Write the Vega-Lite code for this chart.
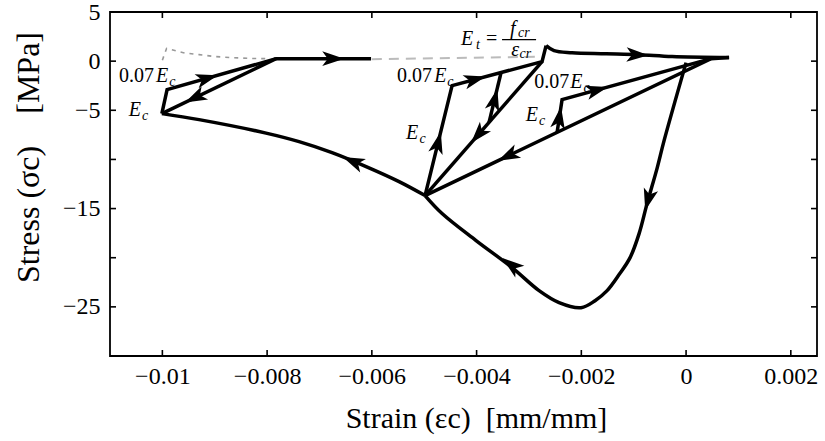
{
  "$schema": "https://vega.github.io/schema/vega-lite/v6.json",
  "width": 707,
  "height": 344,
  "autosize": {"type": "none"},
  "padding": {"left": 110, "top": 12, "right": 8, "bottom": 85},
  "background": "white",
  "config": {"view": {"stroke": "black", "strokeWidth": 1.8}},
  "datasets": {
    "xt": [{"v": -0.01}, {"v": -0.008}, {"v": -0.006}, {"v": -0.004}, {"v": -0.002}, {"v": 0}, {"v": 0.002}],
    "yt": [{"v": 0}, {"v": -5}, {"v": -10}, {"v": -15}, {"v": -20}, {"v": -25}],
    "poly": [
      {"seg": "m1", "ord": 1, "x": -0.004984, "y": -13.68},
      {"seg": "m1", "ord": 2, "x": -0.004468, "y": -2.49},
      {"seg": "m1", "ord": 3, "x": -0.00275, "y": -0.05},
      {"seg": "m1", "ord": 4, "x": -0.002673, "y": 1.58},
      {"seg": "m2", "ord": 1, "x": -0.00275, "y": -0.05},
      {"seg": "m2", "ord": 2, "x": -0.004984, "y": -13.68},
      {"seg": "m3", "ord": 1, "x": -0.003762, "y": -6.23},
      {"seg": "m3", "ord": 2, "x": -0.003533, "y": -1.16},
      {"seg": "r1", "ord": 1, "x": 0.000821, "y": 0.36},
      {"seg": "r1", "ord": 2, "x": 0.000477, "y": 0.25},
      {"seg": "r1", "ord": 3, "x": -0.004984, "y": -13.68},
      {"seg": "r2", "ord": 1, "x": -0.002463, "y": -7.26},
      {"seg": "r2", "ord": 2, "x": -0.002368, "y": -3.92},
      {"seg": "r2", "ord": 3, "x": 0.000477, "y": 0.25},
      {"seg": "l1", "ord": 1, "x": -0.01001, "y": -5.34},
      {"seg": "l1", "ord": 2, "x": -0.00991, "y": -2.9},
      {"seg": "l1", "ord": 3, "x": -0.007829, "y": 0.25},
      {"seg": "l1", "ord": 4, "x": -0.006015, "y": 0.25},
      {"seg": "l2", "ord": 1, "x": -0.007829, "y": 0.25},
      {"seg": "l2", "ord": 2, "x": -0.01001, "y": -5.34}
    ],
    "env": [
      {"seg": "A", "ord": 1, "x": 0.0, "y": -0.15},
      {"seg": "A", "ord": 2, "x": -0.00042, "y": -8.09},
      {"seg": "A", "ord": 3, "x": -0.00055, "y": -10.83},
      {"seg": "A", "ord": 4, "x": -0.000745, "y": -14.5},
      {"seg": "A", "ord": 5, "x": -0.000897, "y": -17.55},
      {"seg": "A", "ord": 6, "x": -0.001069, "y": -19.99},
      {"seg": "A", "ord": 7, "x": -0.001279, "y": -21.72},
      {"seg": "A", "ord": 8, "x": -0.001508, "y": -23.35},
      {"seg": "A", "ord": 9, "x": -0.001738, "y": -24.37},
      {"seg": "A", "ord": 10, "x": -0.002005, "y": -25.08},
      {"seg": "A", "ord": 11, "x": -0.002425, "y": -24.57},
      {"seg": "A", "ord": 12, "x": -0.002807, "y": -23.35},
      {"seg": "A", "ord": 13, "x": -0.003322, "y": -21.01},
      {"seg": "A", "ord": 14, "x": -0.00401, "y": -18.26},
      {"seg": "A", "ord": 15, "x": -0.004659, "y": -15.51},
      {"seg": "A", "ord": 16, "x": -0.004984, "y": -13.68},
      {"seg": "B", "ord": 1, "x": -0.004984, "y": -13.68},
      {"seg": "B", "ord": 2, "x": -0.00548, "y": -12.26},
      {"seg": "B", "ord": 3, "x": -0.00611, "y": -10.73},
      {"seg": "B", "ord": 4, "x": -0.00676, "y": -9.31},
      {"seg": "B", "ord": 5, "x": -0.00739, "y": -8.19},
      {"seg": "B", "ord": 6, "x": -0.00802, "y": -7.32},
      {"seg": "B", "ord": 7, "x": -0.0093, "y": -5.95},
      {"seg": "B", "ord": 8, "x": -0.01001, "y": -5.34},
      {"seg": "T", "ord": 1, "x": -0.002673, "y": 1.58},
      {"seg": "T", "ord": 2, "x": -0.002521, "y": 1.07},
      {"seg": "T", "ord": 3, "x": -0.002177, "y": 0.86},
      {"seg": "T", "ord": 4, "x": -0.001528, "y": 0.76},
      {"seg": "T", "ord": 5, "x": -0.000897, "y": 0.66},
      {"seg": "T", "ord": 6, "x": -0.000267, "y": 0.46},
      {"seg": "T", "ord": 7, "x": 0.000821, "y": 0.36}
    ],
    "gdot": [
      {"ord": 1, "x": -0.01, "y": 0.1},
      {"ord": 2, "x": -0.00992, "y": 1.3},
      {"ord": 3, "x": -0.0096, "y": 0.86},
      {"ord": 4, "x": -0.0093, "y": 0.66},
      {"ord": 5, "x": -0.00898, "y": 0.46},
      {"ord": 6, "x": -0.00867, "y": 0.36},
      {"ord": 7, "x": -0.00835, "y": 0.28},
      {"ord": 8, "x": -0.00802, "y": 0.25}
    ],
    "gdash": [
      {"ord": 1, "x": -0.006, "y": 0.2},
      {"ord": 2, "x": -0.0028, "y": 0.45}
    ],
    "arrows": [
      {"x": -0.00072, "y": -14.0, "dir": 195},
      {"x": -0.003322, "y": -20.8, "dir": 308},
      {"x": -0.00634, "y": -10.25, "dir": 293},
      {"x": -0.00474, "y": -8.4, "dir": 14},
      {"x": -0.00405, "y": -1.89, "dir": 75},
      {"x": -0.00366, "y": -4.02, "dir": 14},
      {"x": -0.003953, "y": -7.4, "dir": 221},
      {"x": -0.00095, "y": 0.64, "dir": 92},
      {"x": -0.00338, "y": -9.59, "dir": 244},
      {"x": -0.002425, "y": -5.85, "dir": 9},
      {"x": -0.001719, "y": -2.96, "dir": 75},
      {"x": -0.009166, "y": -1.77, "dir": 74},
      {"x": -0.009357, "y": -3.67, "dir": 244},
      {"x": -0.00676, "y": 0.25, "dir": 90}
    ],
    "labels": [
      {"x": -0.01083, "y": -1.47, "t": "0.07", "role": "rm"},
      {"x": -0.01012, "y": -1.47, "t": "E", "role": "it"},
      {"x": -0.00987, "y": -2.09, "t": "c", "role": "sub"},
      {"x": -0.01064, "y": -4.93, "t": "E", "role": "it"},
      {"x": -0.01039, "y": -5.54, "t": "c", "role": "sub"},
      {"x": -0.00552, "y": -1.47, "t": "0.07", "role": "rm"},
      {"x": -0.00481, "y": -1.47, "t": "E", "role": "it"},
      {"x": -0.00456, "y": -2.09, "t": "c", "role": "sub"},
      {"x": -0.00535, "y": -7.27, "t": "E", "role": "it"},
      {"x": -0.00509, "y": -7.88, "t": "c", "role": "sub"},
      {"x": -0.0029, "y": -2.09, "t": "0.07", "role": "rm"},
      {"x": -0.00221, "y": -2.09, "t": "E", "role": "it"},
      {"x": -0.00196, "y": -2.7, "t": "c", "role": "sub"},
      {"x": -0.00306, "y": -5.44, "t": "E", "role": "it"},
      {"x": -0.00281, "y": -6.05, "t": "c", "role": "sub"},
      {"x": -0.0043, "y": 2.29, "t": "E", "role": "it"},
      {"x": -0.00401, "y": 1.68, "t": "t", "role": "sub"},
      {"x": -0.00382, "y": 2.29, "t": "=", "role": "rm"},
      {"x": -0.00336, "y": 3.25, "t": "f", "role": "it"},
      {"x": -0.00321, "y": 2.85, "t": "cr", "role": "sub"},
      {"x": -0.00334, "y": 1.17, "t": "ε", "role": "it"},
      {"x": -0.00318, "y": 0.76, "t": "cr", "role": "sub"}
    ],
    "bar": [{"x": -0.003514, "x2": -0.002864, "y": 2.19}]
  },
  "layer": [
    {
      "data": {"name": "poly"},
      "mark": {"type": "line", "color": "black", "strokeWidth": 3.5, "strokeJoin": "miter"},
      "encoding": {
        "x": {"field": "x", "type": "quantitative", "scale": {"domain": [-0.011, 0.0025], "nice": false, "zero": false},
              "axis": {"orient": "bottom", "values": [-0.01, -0.008, -0.006, -0.004, -0.002, 0, 0.002], "format": "~g",
                       "grid": false, "domain": false, "ticks": false, "tickSize": 0,
                       "labelFont": "Liberation Serif", "labelFontSize": 24, "labelColor": "black", "labelPadding": 8,
                       "labelFlush": false, "labelOverlap": false,
                       "title": "Strain (εc)\u00a0\u00a0[mm/mm]", "titleFont": "Liberation Serif", "titleFontSize": 30,
                       "titleFontWeight": "normal", "titleColor": "black", "titlePadding": 15, "titleX": 366}},
        "y": {"field": "y", "type": "quantitative", "scale": {"domain": [-30, 5], "nice": false, "zero": false},
              "axis": {"orient": "left", "values": [5, 0, -5, -10, -15, -20, -25, -30], "format": "~g",
                       "grid": false, "domain": false, "ticks": false, "tickSize": 0,
                       "labelFont": "Liberation Serif", "labelFontSize": 24, "labelColor": "black", "labelPadding": 10,
                       "labelFlush": false, "labelOverlap": false,
                       "labelExpr": "datum.value == -10 || datum.value == -20 || datum.value == -30 ? '' : datum.label",
                       "title": "Stress (σc)\u00a0\u00a0\u00a0\u00a0[MPa]", "titleFont": "Liberation Serif", "titleFontSize": 32,
                       "titleFontWeight": "normal", "titleColor": "black", "titlePadding": 17, "titleY": 145}},
        "detail": {"field": "seg"},
        "order": {"field": "ord"}
      }
    },
    {
      "data": {"name": "xt"},
      "mark": {"type": "rule", "color": "black", "strokeWidth": 1.6},
      "encoding": {
        "x": {"field": "v", "type": "quantitative", "axis": null},
        "y": {"datum": -30, "type": "quantitative", "axis": null},
        "y2": {"datum": -29.39}
      }
    },
    {
      "data": {"name": "xt"},
      "mark": {"type": "rule", "color": "black", "strokeWidth": 1.6},
      "encoding": {
        "x": {"field": "v", "type": "quantitative", "axis": null},
        "y": {"datum": 5, "type": "quantitative", "axis": null},
        "y2": {"datum": 4.39}
      }
    },
    {
      "data": {"name": "yt"},
      "mark": {"type": "rule", "color": "black", "strokeWidth": 1.6},
      "encoding": {
        "y": {"field": "v", "type": "quantitative", "axis": null},
        "x": {"datum": -0.011, "type": "quantitative", "axis": null},
        "x2": {"datum": -0.010885}
      }
    },
    {
      "data": {"name": "yt"},
      "mark": {"type": "rule", "color": "black", "strokeWidth": 1.6},
      "encoding": {
        "y": {"field": "v", "type": "quantitative", "axis": null},
        "x": {"datum": 0.0025, "type": "quantitative", "axis": null},
        "x2": {"datum": 0.002385}
      }
    },
    {
      "mark": {"type": "rule", "color": "black", "strokeWidth": 1.3, "strokeDash": [3, 16]},
      "encoding": {"y": {"datum": 0, "type": "quantitative", "axis": null}}
    },
    {
      "mark": {"type": "rule", "color": "black", "strokeWidth": 1.3, "strokeDash": [3, 16]},
      "encoding": {"x": {"datum": 0, "type": "quantitative", "axis": null}}
    },
    {
      "data": {"name": "gdot"},
      "mark": {"type": "line", "color": "#999999", "strokeWidth": 1.6, "strokeDash": [4, 5]},
      "encoding": {
        "x": {"field": "x", "type": "quantitative", "axis": null},
        "y": {"field": "y", "type": "quantitative", "axis": null},
        "order": {"field": "ord"}
      }
    },
    {
      "data": {"name": "gdash"},
      "mark": {"type": "line", "color": "#bbbbbb", "strokeWidth": 2, "strokeDash": [10, 7]},
      "encoding": {
        "x": {"field": "x", "type": "quantitative", "axis": null},
        "y": {"field": "y", "type": "quantitative", "axis": null},
        "order": {"field": "ord"}
      }
    },
    {
      "data": {"name": "env"},
      "mark": {"type": "line", "color": "black", "strokeWidth": 3.5, "interpolate": "catmull-rom"},
      "encoding": {
        "x": {"field": "x", "type": "quantitative", "axis": null},
        "y": {"field": "y", "type": "quantitative", "axis": null},
        "detail": {"field": "seg"},
        "order": {"field": "ord"}
      }
    },
    {
      "data": {"name": "arrows"},
      "mark": {"type": "point", "shape": "M0,-1L0.6,0.8L0,0.35L-0.6,0.8Z", "filled": true, "color": "black", "size": 600, "opacity": 1, "strokeWidth": 0},
      "encoding": {
        "x": {"field": "x", "type": "quantitative", "axis": null},
        "y": {"field": "y", "type": "quantitative", "axis": null},
        "angle": {"field": "dir", "type": "quantitative", "scale": null}
      }
    },
    {
      "data": {"name": "labels"},
      "transform": [{"filter": "datum.role == 'rm'"}],
      "mark": {"type": "text", "align": "left", "baseline": "middle", "font": "Liberation Serif", "fontSize": 20, "color": "black"},
      "encoding": {
        "x": {"field": "x", "type": "quantitative", "axis": null},
        "y": {"field": "y", "type": "quantitative", "axis": null},
        "text": {"field": "t"}
      }
    },
    {
      "data": {"name": "labels"},
      "transform": [{"filter": "datum.role == 'it'"}],
      "mark": {"type": "text", "align": "left", "baseline": "middle", "font": "Liberation Serif", "fontSize": 20, "fontStyle": "italic", "color": "black"},
      "encoding": {
        "x": {"field": "x", "type": "quantitative", "axis": null},
        "y": {"field": "y", "type": "quantitative", "axis": null},
        "text": {"field": "t"}
      }
    },
    {
      "data": {"name": "labels"},
      "transform": [{"filter": "datum.role == 'sub'"}],
      "mark": {"type": "text", "align": "left", "baseline": "middle", "font": "Liberation Serif", "fontSize": 14, "fontStyle": "italic", "color": "black"},
      "encoding": {
        "x": {"field": "x", "type": "quantitative", "axis": null},
        "y": {"field": "y", "type": "quantitative", "axis": null},
        "text": {"field": "t"}
      }
    },
    {
      "data": {"name": "bar"},
      "mark": {"type": "rule", "color": "black", "strokeWidth": 1.3},
      "encoding": {
        "x": {"field": "x", "type": "quantitative", "axis": null},
        "x2": {"field": "x2"},
        "y": {"field": "y", "type": "quantitative", "axis": null}
      }
    }
  ],
  "resolve": {"axis": {"x": "independent", "y": "independent"}}
}
